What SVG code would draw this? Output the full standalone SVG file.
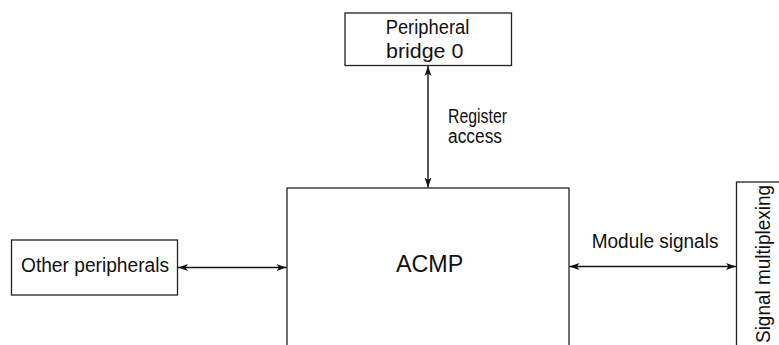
<svg xmlns="http://www.w3.org/2000/svg" width="779" height="345" viewBox="0 0 779 345">
<style>
.box{fill:#fff;stroke:#222;stroke-width:1.3}
.t{font-family:"Liberation Sans",Arial,sans-serif;font-size:20px;fill:#111}
.c{stroke:#111;stroke-width:1.4;fill:none}
</style>
<defs>
<marker id="ah" viewBox="0 0 10 8" refX="10" refY="4" markerWidth="10" markerHeight="8" markerUnits="userSpaceOnUse" orient="auto-start-reverse">
<path d="M0,0.5 L10,4 L0,7.5 L2.5,4 Z" fill="#111"/>
</marker>
</defs>
<g id="connectors">
<line class="c" x1="428" y1="66" x2="428" y2="187.5" marker-start="url(#ah)" marker-end="url(#ah)"/>
<line class="c" x1="178" y1="267.5" x2="286.5" y2="267.5" marker-start="url(#ah)" marker-end="url(#ah)"/>
<line class="c" x1="569.5" y1="266.5" x2="736" y2="266.5" marker-start="url(#ah)" marker-end="url(#ah)"/>
<text class="t" x="448" y="123" textLength="59" lengthAdjust="spacingAndGlyphs">Register</text>
<text class="t" x="448" y="143" textLength="54" lengthAdjust="spacingAndGlyphs">access</text>
<text class="t" x="591.7" y="247.5" textLength="126.7" lengthAdjust="spacingAndGlyphs">Module signals</text>
</g>
<g id="bridge">
<rect class="box" x="345" y="13" width="166.5" height="52.5"/>
<text class="t" x="385.7" y="33.5" textLength="83.6" lengthAdjust="spacingAndGlyphs">Peripheral</text>
<text class="t" x="386" y="58.3" textLength="77.3" lengthAdjust="spacingAndGlyphs">bridge 0</text>
</g>
<g id="acmp">
<rect class="box" x="287" y="188" width="282" height="170"/>
<text class="t" x="396" y="272.3" style="font-size:23.5px" textLength="67.3" lengthAdjust="spacingAndGlyphs">ACMP</text>
</g>
<g id="other">
<rect class="box" x="11.5" y="240" width="166" height="55"/>
<text class="t" x="21" y="272.3" textLength="148" lengthAdjust="spacingAndGlyphs">Other peripherals</text>
</g>
<g id="mux">
<rect class="box" x="736.5" y="182" width="60" height="180"/>
<text class="t" transform="translate(770,343) rotate(-90)" textLength="158" lengthAdjust="spacingAndGlyphs">Signal multiplexing</text>
</g>
</svg>
